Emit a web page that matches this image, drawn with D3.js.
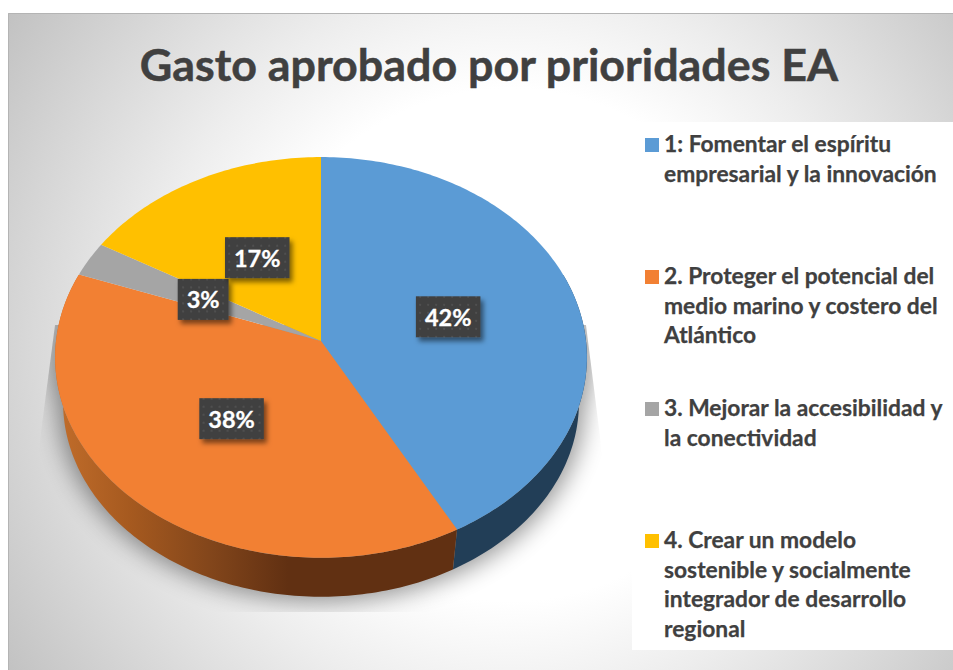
<!DOCTYPE html>
<html><head><meta charset="utf-8">
<script src="https://cdnjs.cloudflare.com/ajax/libs/d3/7.8.5/d3.min.js"></script>
<style>html,body{margin:0;padding:0;background:#fff;overflow:hidden}svg{display:block}text{font-family:Lato,Carlito,sans-serif;font-weight:700}</style>
</head><body><script>
const titleText = "Gasto aprobado por prioridades EA";
const values = [42.1, 38.49, 2.81, 16.6];
const colors = ["#5b9bd5", "#f28033", "#a5a5a5", "#ffc000"];
const legendLines = [
  ["1: Fomentar el espíritu", "empresarial y la innovación"],
  ["2. Proteger el potencial del", "medio marino y costero del", "Atlántico"],
  ["3. Mejorar la accesibilidad y", "la conectividad"],
  ["4. Crear un modelo", "sostenible y socialmente", "integrador de desarrollo", "regional"]
];

const W = 953, H = 670;
const svg = d3.select("body").append("svg").attr("width", W).attr("height", H);
const defs = svg.append("defs");

// background
const bg = defs.append("radialGradient").attr("id", "bg").attr("gradientUnits", "userSpaceOnUse")
  .attr("cx", 510).attr("cy", 345).attr("r", 610);
[[0, "#ffffff"], [0.42, "#ffffff"], [0.6, "#ededed"], [0.78, "#d9d9d9"], [1, "#c0c0c0"]]
  .forEach(s => bg.append("stop").attr("offset", s[0]).attr("stop-color", s[1]));
svg.append("rect").attr("x", 8).attr("y", 13).attr("width", W - 8).attr("height", H - 13).attr("fill", "url(#bg)");
svg.append("path").attr("d", `M8.5 ${H}V13.5H${W}`).attr("fill", "none").attr("stroke", "#b4b4b4");

svg.append("text").attr("x", 489).attr("y", 81).attr("text-anchor", "middle")
  .attr("font-size", 44.8).attr("fill", "#404040").attr("stroke", "#404040").attr("stroke-width", 0.5).text(titleText);

// perspective projection of the pie disc
const cx = 321, cy = 341, R = 265, Re = 199, k = 0.082, wallDy = 45.5, wallScale = 0.97;
function project(angle, r, low) {
  const X = Math.sin(angle) * r, Y = -Math.cos(angle) * r, d = 1 - k * Y;
  const s = low ? wallScale : 1;
  return [cx + R * s * X / d, cy + (low ? wallDy : 0) + Re * s * Y / d];
}
const line = d3.line();
const pie = d3.pie().sort(null).value(d => d)(values);
const step = Math.PI / 180;
function samples(a0, a1) {
  const n = Math.max(2, Math.ceil((a1 - a0) / step));
  return d3.range(n + 1).map(i => a0 + (a1 - a0) * i / n);
}

// shadow: blurred silhouette of the disc, cut by a flaring outline
const blur = defs.append("filter").attr("id", "blurS").attr("filterUnits", "userSpaceOnUse")
  .attr("x", 0).attr("y", 100).attr("width", W).attr("height", 570);
blur.append("feGaussianBlur").attr("stdDeviation", 12);
const shadowOutline = [[55, 325], [38, 455], [38, 612], [603, 612], [603, 460], [586, 325]];
defs.append("clipPath").attr("id", "shadowClip").append("path").attr("d", line(shadowOutline) + "Z");
const ring = low => line(samples(0, 2 * Math.PI).map(a => project(a, 1.02, low))) + "Z";
svg.append("g").attr("clip-path", "url(#shadowClip)").append("path")
  .attr("d", ring(false) + ring(true))
  .attr("fill", "#000").attr("opacity", 0.42).attr("filter", "url(#blurS)");

// walls
const wallGrad = defs.append("linearGradient").attr("id", "wallOrange").attr("gradientUnits", "userSpaceOnUse").attr("x1", 60).attr("x2", 300).attr("y1", 0).attr("y2", 0);
[[0, "#c06c2a"], [0.3, "#a5591f"], [0.62, "#83461b"], [0.95, "#613012"], [1, "#613012"]]
  .forEach(s => wallGrad.append("stop").attr("offset", s[0]).attr("stop-color", s[1]));
const wallFill = ["#223e57", "url(#wallOrange)", "#6b6b6b", "#a07900"];
const wallMin = 70 * step, wallMax = 290 * step;
svg.append("g").selectAll("path").data(pie).join("path")
  .attr("d", d => {
    const a0 = Math.max(d.startAngle, wallMin), a1 = Math.min(d.endAngle, wallMax);
    if (a1 <= a0) return null;
    const as = samples(a0, a1);
    return line(as.map(a => project(a, 1, false)).concat(as.slice().reverse().map(a => project(a, 1, true)))) + "Z";
  })
  .attr("fill", (d, i) => wallFill[i]);

// top faces
svg.append("g").selectAll("path").data(pie).join("path")
  .attr("d", d => line([[cx, cy]].concat(samples(d.startAngle, d.endAngle).map(a => project(a, 1, false)))) + "Z")
  .attr("fill", (d, i) => colors[i]);

// data labels
const dots = defs.append("pattern").attr("id", "dots").attr("patternUnits", "userSpaceOnUse").attr("width", 8).attr("height", 8);
dots.append("rect").attr("width", 8).attr("height", 8).attr("fill", "#3f3f3f");
dots.append("circle").attr("cx", 4).attr("cy", 4).attr("r", 1).attr("fill", "#555555");
const sh = defs.append("filter").attr("id", "boxShadow").attr("x", "-30%").attr("y", "-30%").attr("width", "170%").attr("height", "170%");
sh.append("feDropShadow").attr("dx", 3).attr("dy", 4).attr("stdDeviation", 2.5).attr("flood-color", "#000").attr("flood-opacity", 0.5);
const pct = d3.format(".0f");
const lab = svg.append("g").selectAll("g").data(pie).join("g")
  .attr("transform", d => { const p = project((d.startAngle + d.endAngle) / 2, 0.5, false); return `translate(${p[0]},${p[1]})`; });
lab.append("rect").attr("fill", "url(#dots)").attr("filter", "url(#boxShadow)");
const labT = lab.append("text").attr("text-anchor", "middle").attr("y", 9).attr("font-size", 23.5).attr("fill", "#fff").attr("stroke", "#fff").attr("stroke-width", 0.3).text(d => pct(d.value) + "%");
labT.each(function () {
  const w = this.getComputedTextLength() + 18;
  d3.select(this.parentNode).select("rect").attr("x", -w / 2).attr("y", -20.5).attr("width", w).attr("height", 41);
});

// legend
svg.append("rect").attr("x", 632).attr("y", 122).attr("width", W - 632).attr("height", 528).attr("fill", "#fff");
const ly = d3.scaleLinear().domain([0, 3]).range([145, 541]);
const leg = svg.append("g").selectAll("g").data(legendLines).join("g").attr("transform", (d, i) => `translate(0,${ly(i)})`);
leg.append("rect").attr("x", 645).attr("y", -7).attr("width", 14).attr("height", 14).attr("fill", (d, i) => colors[i]);
leg.selectAll("text").data(d => d).join("text").attr("x", 664).attr("y", (d, i) => 7 + i * 29.6)
  .attr("font-size", 22.8).attr("fill", "#404040").attr("stroke", "#404040").attr("stroke-width", 0.25).text(d => d);
</script></body></html>
